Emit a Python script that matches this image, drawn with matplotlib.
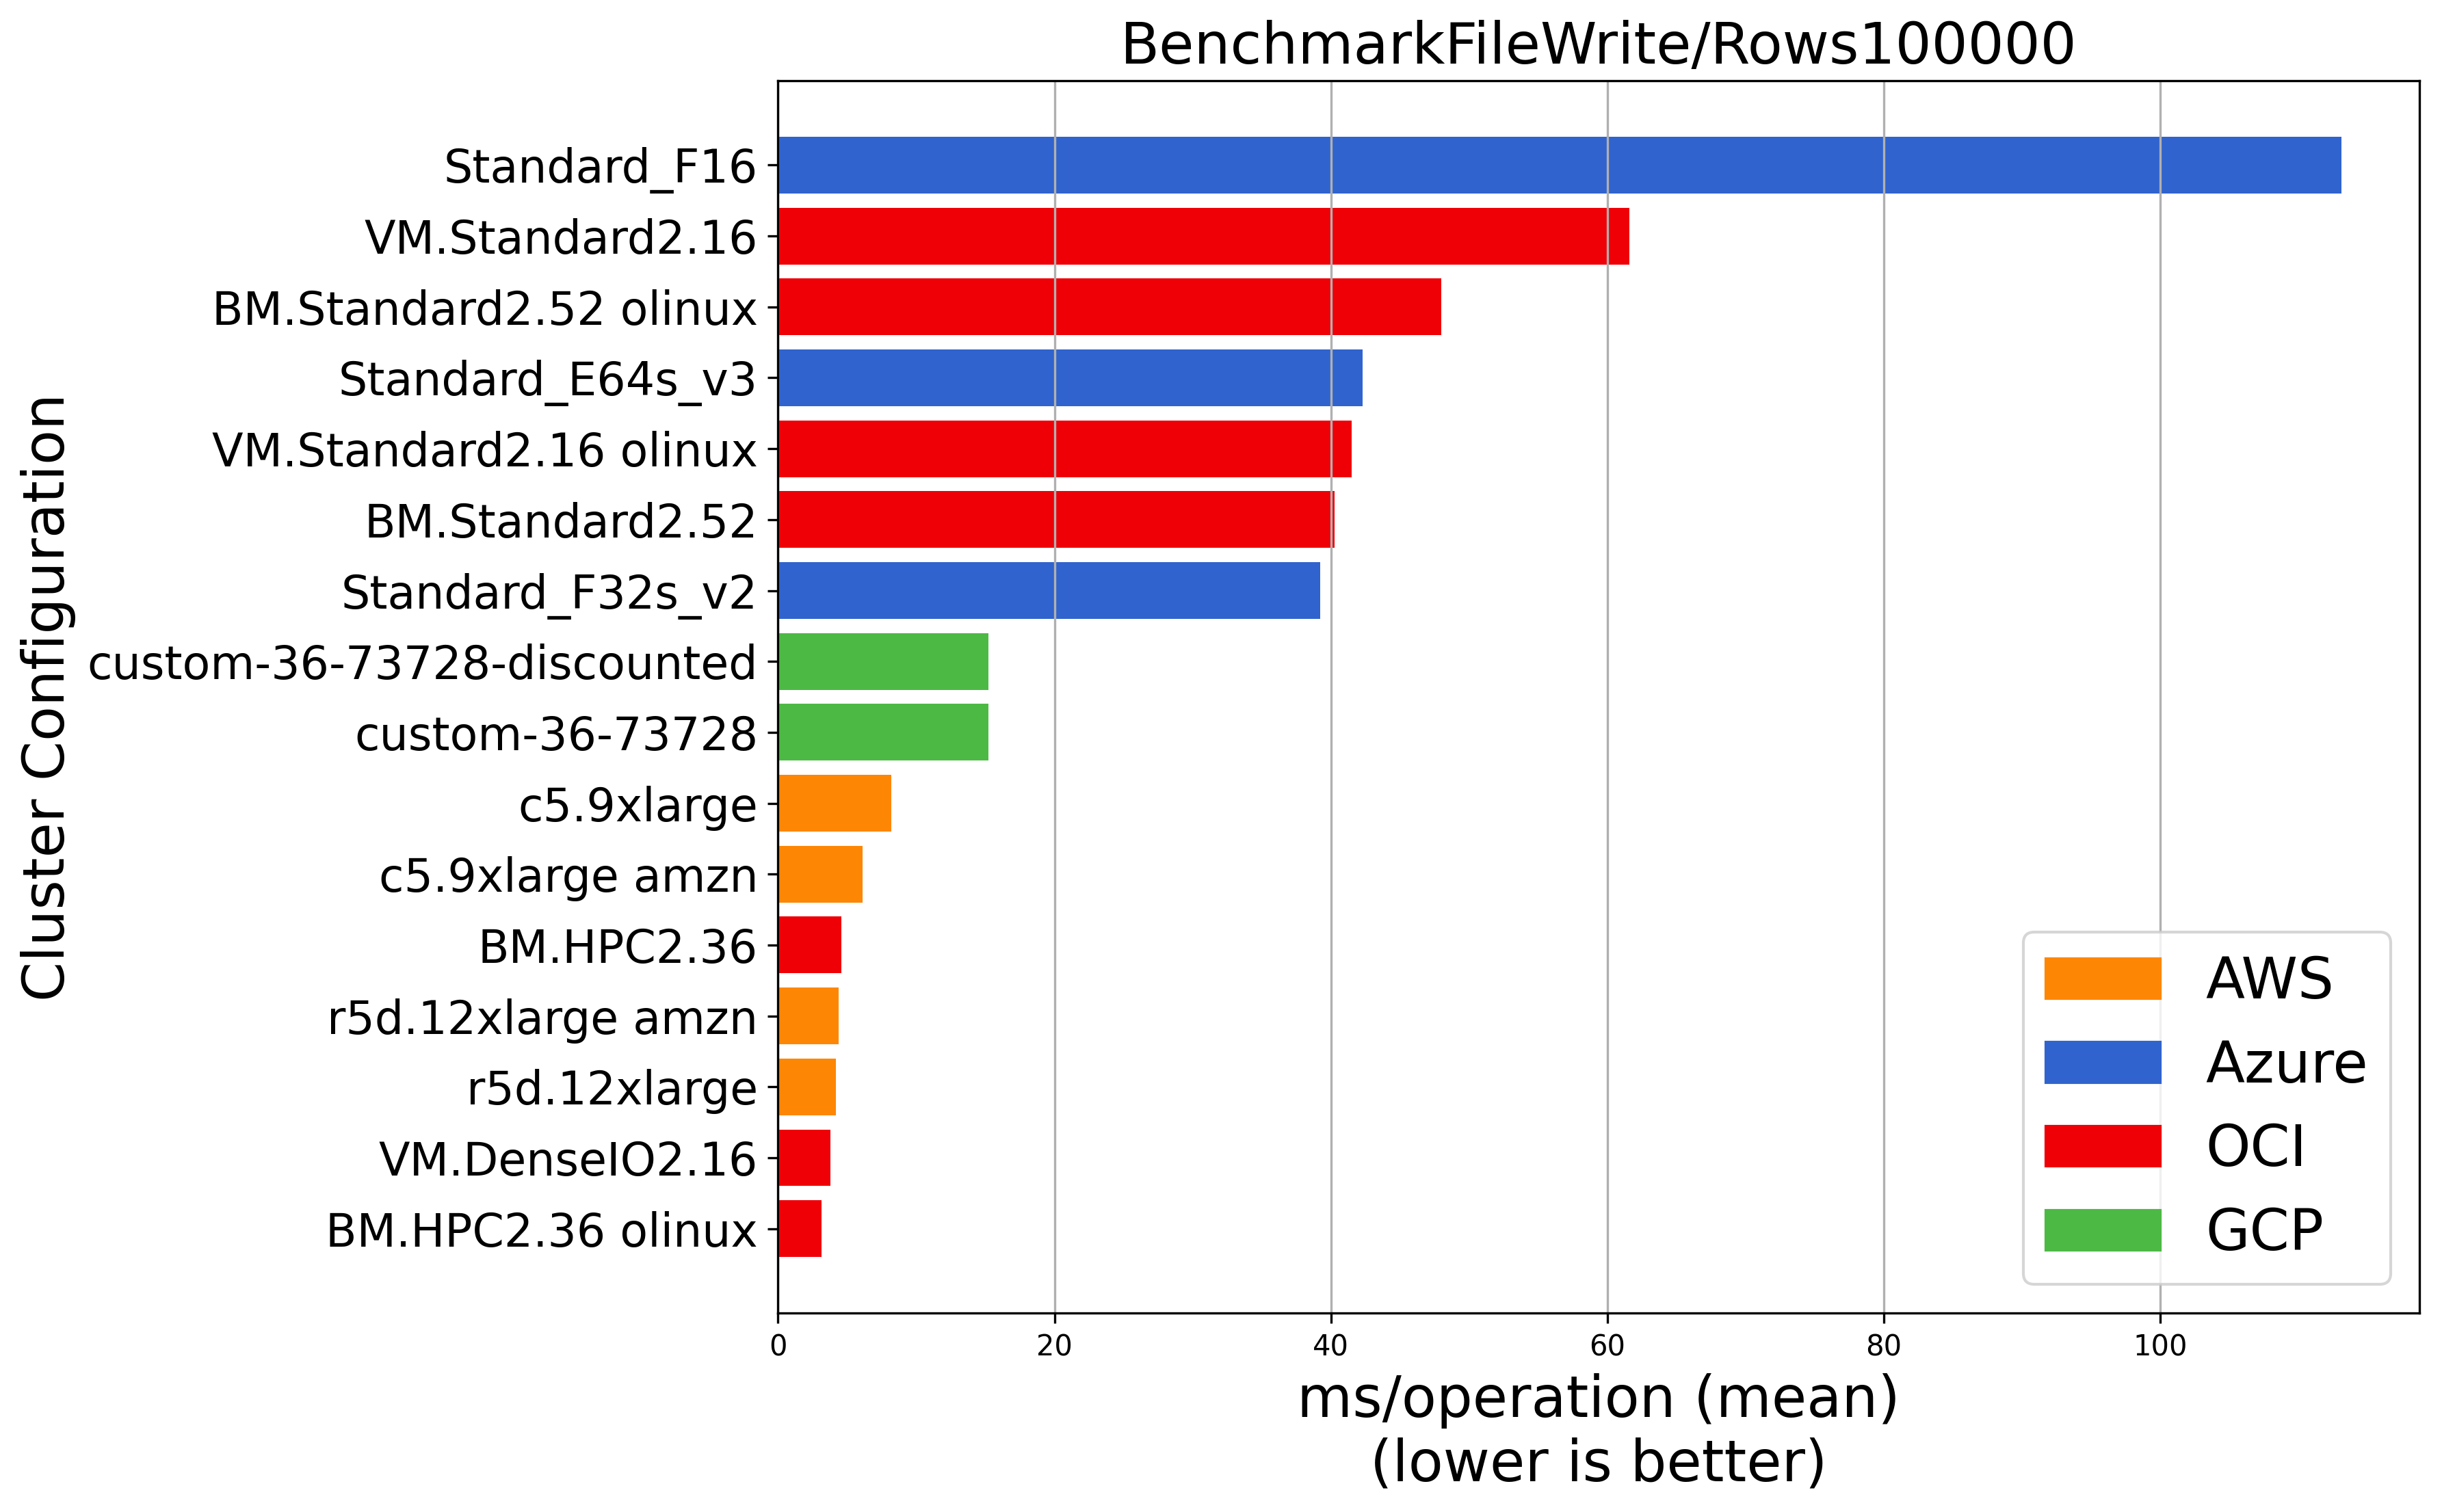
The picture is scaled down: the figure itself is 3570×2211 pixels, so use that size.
import matplotlib
matplotlib.use("Agg")
import matplotlib.pyplot as plt
from matplotlib.patches import Patch

configs = [
    "Standard_F16", "VM.Standard2.16", "BM.Standard2.52 olinux", "Standard_E64s_v3",
    "VM.Standard2.16 olinux", "BM.Standard2.52", "Standard_F32s_v2",
    "custom-36-73728-discounted", "custom-36-73728", "c5.9xlarge", "c5.9xlarge amzn",
    "BM.HPC2.36", "r5d.12xlarge amzn", "r5d.12xlarge", "VM.DenseIO2.16", "BM.HPC2.36 olinux",
]
values = [113.1, 61.6, 48.0, 42.3, 41.5, 40.25, 39.2, 15.2, 15.2, 8.2, 6.1, 4.6, 4.4, 4.2, 3.8, 3.15]
providers = ["Azure", "OCI", "OCI", "Azure", "OCI", "OCI", "Azure", "GCP", "GCP",
             "AWS", "AWS", "OCI", "AWS", "AWS", "OCI", "OCI"]
legend_order = ["AWS", "Azure", "OCI", "GCP"]
colors = {"AWS": "#fe8605", "Azure": "#3063cd", "OCI": "#ef0007", "GCP": "#4cb944"}

fig = plt.figure(figsize=(11.9, 7.37), dpi=300)
ax = fig.add_axes([0.3186, 0.1316, 0.9908 - 0.3186, 0.9466 - 0.1316])

ys = list(range(len(configs)))[::-1]
ax.barh(ys, values, height=0.8, color=[colors[p] for p in providers])
ax.set_yticks(ys)
ax.set_yticklabels(configs, fontsize=16)
ax.tick_params(axis="x", labelsize=10)
ax.xaxis.grid(True, color="#b0b0b0", linewidth=0.8)
ax.set_title("BenchmarkFileWrite/Rows100000", fontsize=20)
ax.set_xlabel("ms/operation (mean)\n(lower is better)", fontsize=20)
ax.set_ylabel("Cluster Configuration", fontsize=20)

handles = [Patch(color=colors[p], label=p) for p in legend_order]
ax.legend(handles=handles, loc="lower right", fontsize=20)

fig.savefig("out.png", dpi=300)
